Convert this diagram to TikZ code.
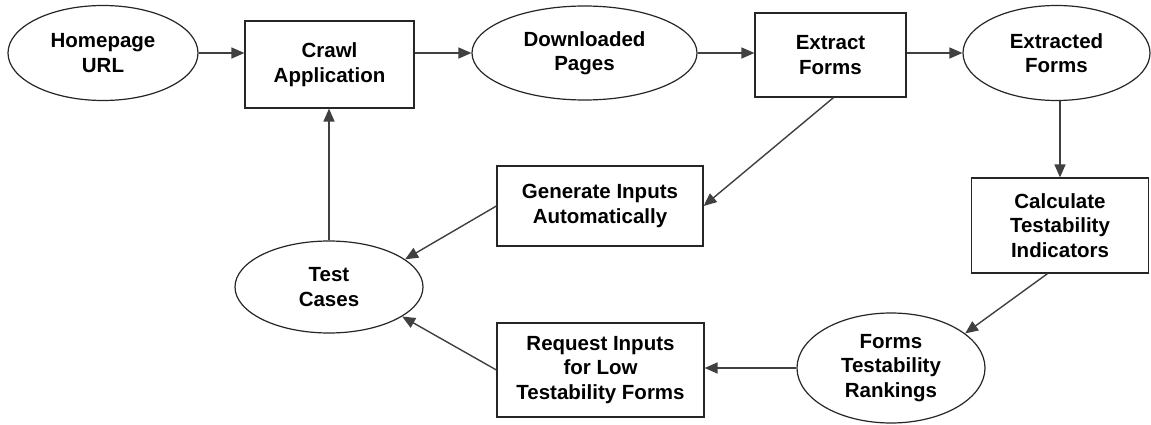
\documentclass[tikz,border=0pt]{standalone}
\usepackage{fontspec}
\setmainfont{Liberation Sans}
\usetikzlibrary{shapes.geometric,arrows.meta,calc}
\tikzset{
  base/.style={draw=black!85, line width=1.2pt, align=center, inner sep=0pt,
    font=\bfseries\fontsize{20.5}{24.5}\selectfont},
  oval/.style={base, ellipse},
  stepbox/.style={base, rectangle},
  flow/.style={draw=black!75, line width=1.4pt, -{Triangle[length=13pt,width=11pt]}},
}
\begin{document}
\begin{tikzpicture}[x=1pt,y=-1pt]
  \useasboundingbox[fill=white] (0,0) rectangle (1151,425);

  % top row
  \node[oval, minimum width=190pt, minimum height=95pt] (home) at (103,53) {Homepage\\URL};
  \node[stepbox, minimum width=169pt, minimum height=87pt] (crawl) at (329.5,64.5) {Crawl\\Application};
  \node[oval, minimum width=225pt, minimum height=94pt] (dl) at (584.5,53) {Downloaded\\Pages};
  \node[stepbox, minimum width=151pt, minimum height=84pt] (ext) at (830.5,55) {Extract\\Forms};
  \node[oval, minimum width=187pt, minimum height=95pt] (exd) at (1056.5,53) {Extracted\\Forms};

  % right column and bottom row
  \node[stepbox, minimum width=177pt, minimum height=95pt] (calc) at (1060,225.5) {Calculate\\Testability\\Indicators};
  \node[oval, minimum width=188pt, minimum height=110pt] (rank) at (891,368) {Forms\\Testability\\Rankings};
  \node[stepbox, minimum width=207pt, minimum height=94pt] (req) at (600.5,370) {Request Inputs\\for Low\\Testability Forms};

  % middle
  \node[oval, minimum width=188pt, minimum height=92pt] (test) at (329,287) {Test\\Cases};
  \node[stepbox, minimum width=206pt, minimum height=80pt] (gen) at (600,206) {Generate Inputs\\Automatically};

  % connectors
  \draw[flow] (home.east) -- (home.east -| crawl.west);
  \draw[flow] (crawl.east |- dl.west) -- (dl.west);
  \draw[flow] (dl.east) -- (dl.east -| ext.west);
  \draw[flow] (ext.east |- exd.west) -- (exd.west);
  \draw[flow] (calc.north |- exd.south) -- (calc.north);
  \draw[flow] ($(calc.south west)!0.43!(calc.south east)$) -- (rank.25);
  \draw[flow] (rank.west) -- (rank.west -| req.east);
  \draw[flow] (req.west) -- (test.-22);
  \draw[flow] ($(ext.south)+(3,0)$) -- (gen.east);
  \draw[flow] (gen.west) -- (test.20);
  \draw[flow] (test.north) -- (test.north |- crawl.south);
\end{tikzpicture}
\end{document}
